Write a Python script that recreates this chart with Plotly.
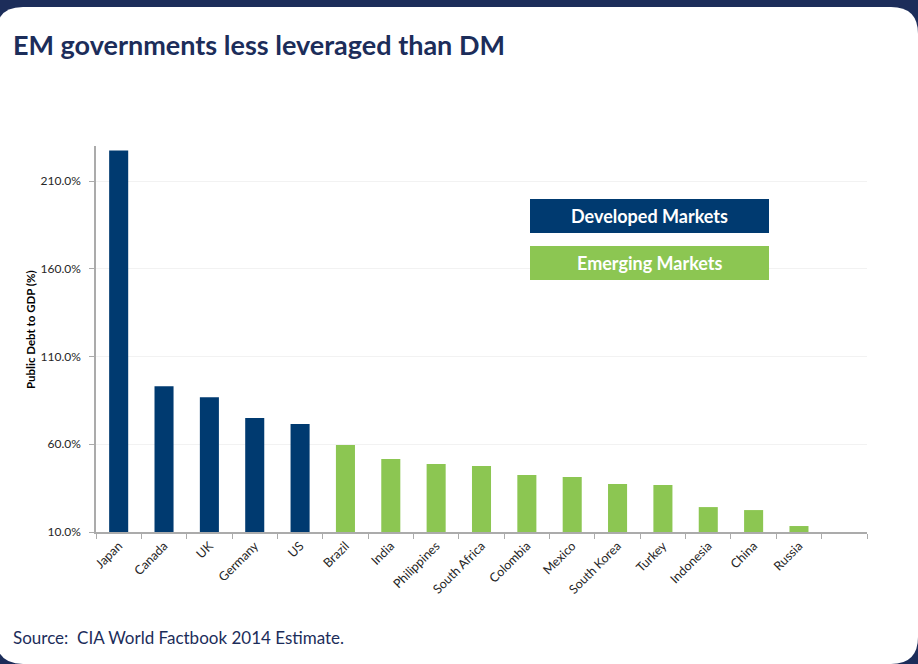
import plotly.graph_objects as go

# ---- data ----
dm_countries = ["Japan", "Canada", "UK", "Germany", "US"]
dm_values = [227.5, 93.0, 86.8, 75.0, 71.5]
em_countries = ["Brazil", "India", "Philippines", "South Africa", "Colombia", "Mexico",
                "South Korea", "Turkey", "Indonesia", "China", "Russia"]
em_values = [59.6, 51.6, 48.7, 47.6, 42.5, 41.3, 37.4, 36.8, 24.2, 22.5, 13.4]
all_categories = dm_countries + em_countries + [" "]
y_ticks = [10, 60, 110, 160, 210]
y_tick_labels = ["10.0%", "60.0%", "110.0%", "160.0%", "210.0%"]

title_text = "EM governments less leveraged than DM"
source_text = "Source:  CIA World Factbook 2014 Estimate."
y_title = "Public Debt to GDP (%)"
legend_labels = ["Developed Markets", "Emerging Markets"]

NAVY_BG = "#1c2d5a"
DM_COL = "#003a70"
EM_COL = "#8cc652"
FONT = "Lato"

W, H = 918, 664
L, R, T, B = 96, 51, 146, 132
PW, PH = W - L - R, H - T - B


def px(x):
    return (x - L) / PW


def py(y):
    return (H - B - y) / PH


fig = go.Figure()
fig.add_trace(go.Bar(x=dm_countries, y=dm_values, marker_color=DM_COL,
                     marker_line_width=0, name=legend_labels[0], showlegend=False))
fig.add_trace(go.Bar(x=em_countries + [" "], y=em_values + [None], marker_color=EM_COL,
                     marker_line_width=0, name=legend_labels[1], showlegend=False))

# white rounded card
x0, y0, x1, y1, r = -4, 7, 918, 664, 27
path = (f"M {px(x0)},{py(y0 + r)} Q {px(x0)},{py(y0)} {px(x0 + r)},{py(y0)} "
        f"L {px(x1 - r)},{py(y0)} Q {px(x1)},{py(y0)} {px(x1)},{py(y0 + r)} "
        f"L {px(x1)},{py(y1 - r)} Q {px(x1)},{py(y1)} {px(x1 - r)},{py(y1)} "
        f"L {px(x0 + r)},{py(y1)} Q {px(x0)},{py(y1)} {px(x0)},{py(y1 - r)} Z")
shapes = [dict(type="path", path=path, xref="paper", yref="paper",
               fillcolor="white", line_width=0, layer="below")]

# legend boxes
boxes = [(530, 199, 769, 233, DM_COL), (530, 246, 769, 280, EM_COL)]
annotations = []
for (bx0, by0, bx1, by1, col), lab in zip(boxes, legend_labels):
    shapes.append(dict(type="rect", xref="paper", yref="paper",
                       x0=px(bx0), x1=px(bx1), y0=py(by1), y1=py(by0),
                       fillcolor=col, line_width=0, layer="above"))
    annotations.append(dict(text=f"<b>{lab}</b>", xref="paper", yref="paper",
                            x=px((bx0 + bx1) / 2), y=py((by0 + by1) / 2),
                            xanchor="center", yanchor="middle", showarrow=False,
                            font=dict(family=FONT, size=18, color="white")))

annotations.append(dict(text=f"<b>{title_text}</b>", xref="paper", yref="paper",
                        x=px(11), y=py(45), xanchor="left", yanchor="middle",
                        showarrow=False, font=dict(family=FONT, size=27, color=NAVY_BG)))
annotations.append(dict(text=source_text, xref="paper", yref="paper",
                        x=px(11), y=py(637), xanchor="left", yanchor="middle",
                        showarrow=False, font=dict(family=FONT, size=17, color=NAVY_BG)))
annotations.append(dict(text=f"<b>{y_title}</b>", xref="paper", yref="paper",
                        x=px(30), y=py(330), xanchor="center", yanchor="middle",
                        textangle=-90, showarrow=False,
                        font=dict(family=FONT, size=11.5, color="#000000")))

fig.update_layout(
    width=W, height=H,
    margin=dict(l=L, r=R, t=T, b=B, autoexpand=False),
    paper_bgcolor=NAVY_BG, plot_bgcolor="rgba(0,0,0,0)",
    barmode="overlay", bargap=0.58,
    shapes=shapes, annotations=annotations,
    font=dict(family=FONT, size=12, color="#262626"),
    xaxis=dict(type="category", categoryorder="array", categoryarray=all_categories,
               range=[-0.5, len(all_categories) - 0.5],
               showline=True, linecolor="#ababab", linewidth=1.5,
               ticks="outside", tickson="boundaries", ticklen=5, tickcolor="#ababab",
               tickangle=-45, showgrid=False, zeroline=False,
               tickfont=dict(family=FONT, size=12.5, color="#262626")),
    yaxis=dict(range=[10, 230], tickvals=y_ticks, ticktext=y_tick_labels,
               showline=True, linecolor="#ababab", linewidth=1.5,
               ticks="outside", ticklen=5, tickcolor="#ababab", ticklabelstandoff=6,
               showgrid=True, gridcolor="#f2f2f2", gridwidth=1, zeroline=False,
               tickfont=dict(family=FONT, size=12, color="#262626")),
)

fig.write_html("out.html")
